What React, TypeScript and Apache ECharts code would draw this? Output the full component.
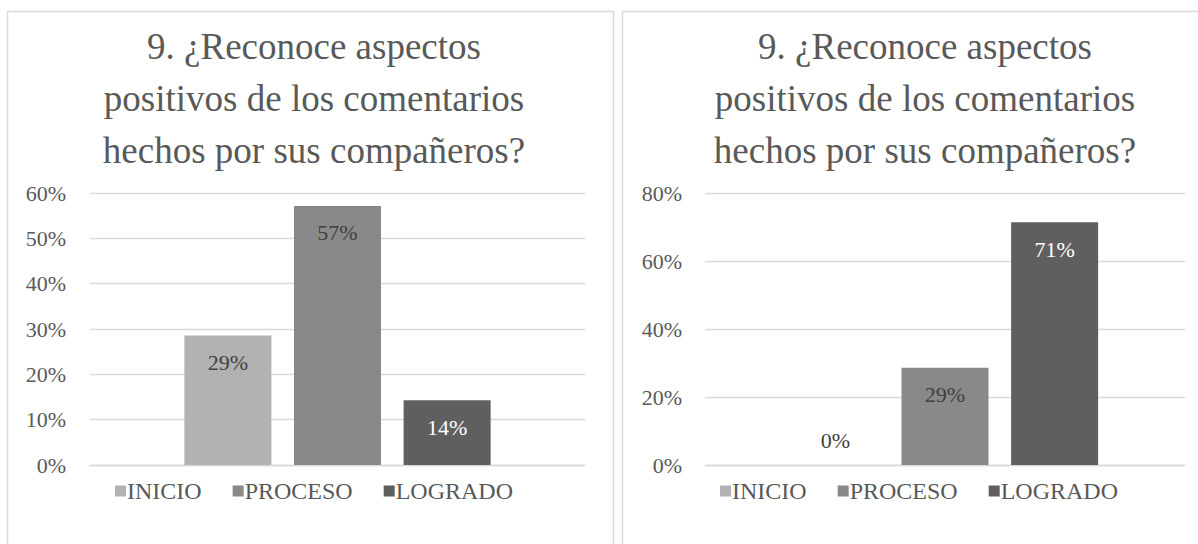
import React, { useEffect, useRef } from "react";
import * as echarts from "echarts";

const titleText = "9. ¿Reconoce aspectos\npositivos de los comentarios\nhechos por sus compañeros?";
const seriesNames = ["INICIO", "PROCESO", "LOGRADO"];
const seriesColors = ["#b2b2b2", "#898989", "#5f5f5f"];
const labelColors = ["#404040", "#404040", "#ffffff"];
const leftValues = [0.2857, 0.5714, 0.1429];
const rightValues = [0, 0.2857, 0.7143];
const leftAxisMax = 0.6;
const leftAxisInterval = 0.1;
const rightAxisMax = 0.8;
const rightAxisInterval = 0.2;

const FONT = "Liberation Serif";
const GREY = "#595959";
const LINE = "#d9d9d9";

export default function App() {
  const ref = useRef<HTMLDivElement>(null);
  useEffect(() => {
    if (!ref.current) return;
    const chart = echarts.init(ref.current, null, { renderer: "svg" });
    const pct = (v: number) => Math.round(v * 100) + "%";
    const mkSeries = (values: number[], idx: number) =>
      seriesNames.map((name, i) => ({
        type: "bar",
        name,
        xAxisIndex: idx,
        yAxisIndex: idx,
        barWidth: 87,
        barGap: "26%",
        itemStyle: { color: seriesColors[i] },
        label: {
          show: true,
          position: "insideTop",
          distance: 16,
          color: labelColors[i],
          fontFamily: FONT,
          fontSize: 22,
          formatter: (p: any) => pct(p.value),
        },
        data: [
          values[i] === 0
            ? { value: values[i], label: { position: "top", distance: 14, color: "#404040" } }
            : values[i],
        ],
      }));
    const yAxis = (idx: number, max: number, interval: number, margin: number) => ({
      type: "value",
      gridIndex: idx,
      min: 0,
      max,
      interval,
      axisLine: { show: false },
      axisTick: { show: false },
      splitLine: { lineStyle: { color: LINE, width: 1.3 } },
      axisLabel: {
        color: GREY,
        fontFamily: FONT,
        fontSize: 22,
        margin,
        formatter: (v: number) => pct(v),
      },
    });
    const xAxis = (idx: number) => ({
      type: "category",
      gridIndex: idx,
      data: [""],
      axisLine: { lineStyle: { color: LINE, width: 1.3 } },
      axisTick: { show: false },
      axisLabel: { show: false },
    });
    const legend = (left: number) => ({
      left,
      top: 474,
      data: seriesNames,
      icon: "rect",
      itemWidth: 11,
      itemHeight: 11,
      itemGap: 31,
      selectedMode: false,
      textStyle: { color: GREY, fontFamily: FONT, fontSize: 24, padding: [0, 0, 0, -4] },
    });
    const title = (left: number) => ({
      text: titleText,
      left,
      top: 15,
      textAlign: "center",
      textStyle: { color: GREY, fontFamily: FONT, fontSize: 37, fontWeight: "normal", lineHeight: 52 },
    });
    chart.setOption({
      animation: false,
      title: [title(309), title(920)],
      legend: [legend(110), legend(715)],
      grid: [
        { left: 90, right: 613, top: 193, bottom: 79 },
        { left: 705, right: 13, top: 193, bottom: 79 },
      ],
      xAxis: [xAxis(0), xAxis(1)],
      yAxis: [yAxis(0, leftAxisMax, leftAxisInterval, 24), yAxis(1, rightAxisMax, rightAxisInterval, 23)],
      series: [...mkSeries(leftValues, 0), ...mkSeries(rightValues, 1)],
      graphic: [
        {
          type: "rect",
          shape: { x: 7.5, y: 11.5, width: 606, height: 560 },
          style: { fill: "none", stroke: LINE, lineWidth: 1.5 },
          silent: true,
        },
        {
          type: "rect",
          shape: { x: 622.5, y: 11.5, width: 600, height: 560 },
          style: { fill: "none", stroke: LINE, lineWidth: 1.5 },
          silent: true,
        },
      ],
    });
    return () => chart.dispose();
  }, []);
  return (
    <div
      ref={ref}
      style={{ position: "fixed", left: 0, top: 0, width: 1198, height: 544, background: "#fff" }}
    />
  );
}
